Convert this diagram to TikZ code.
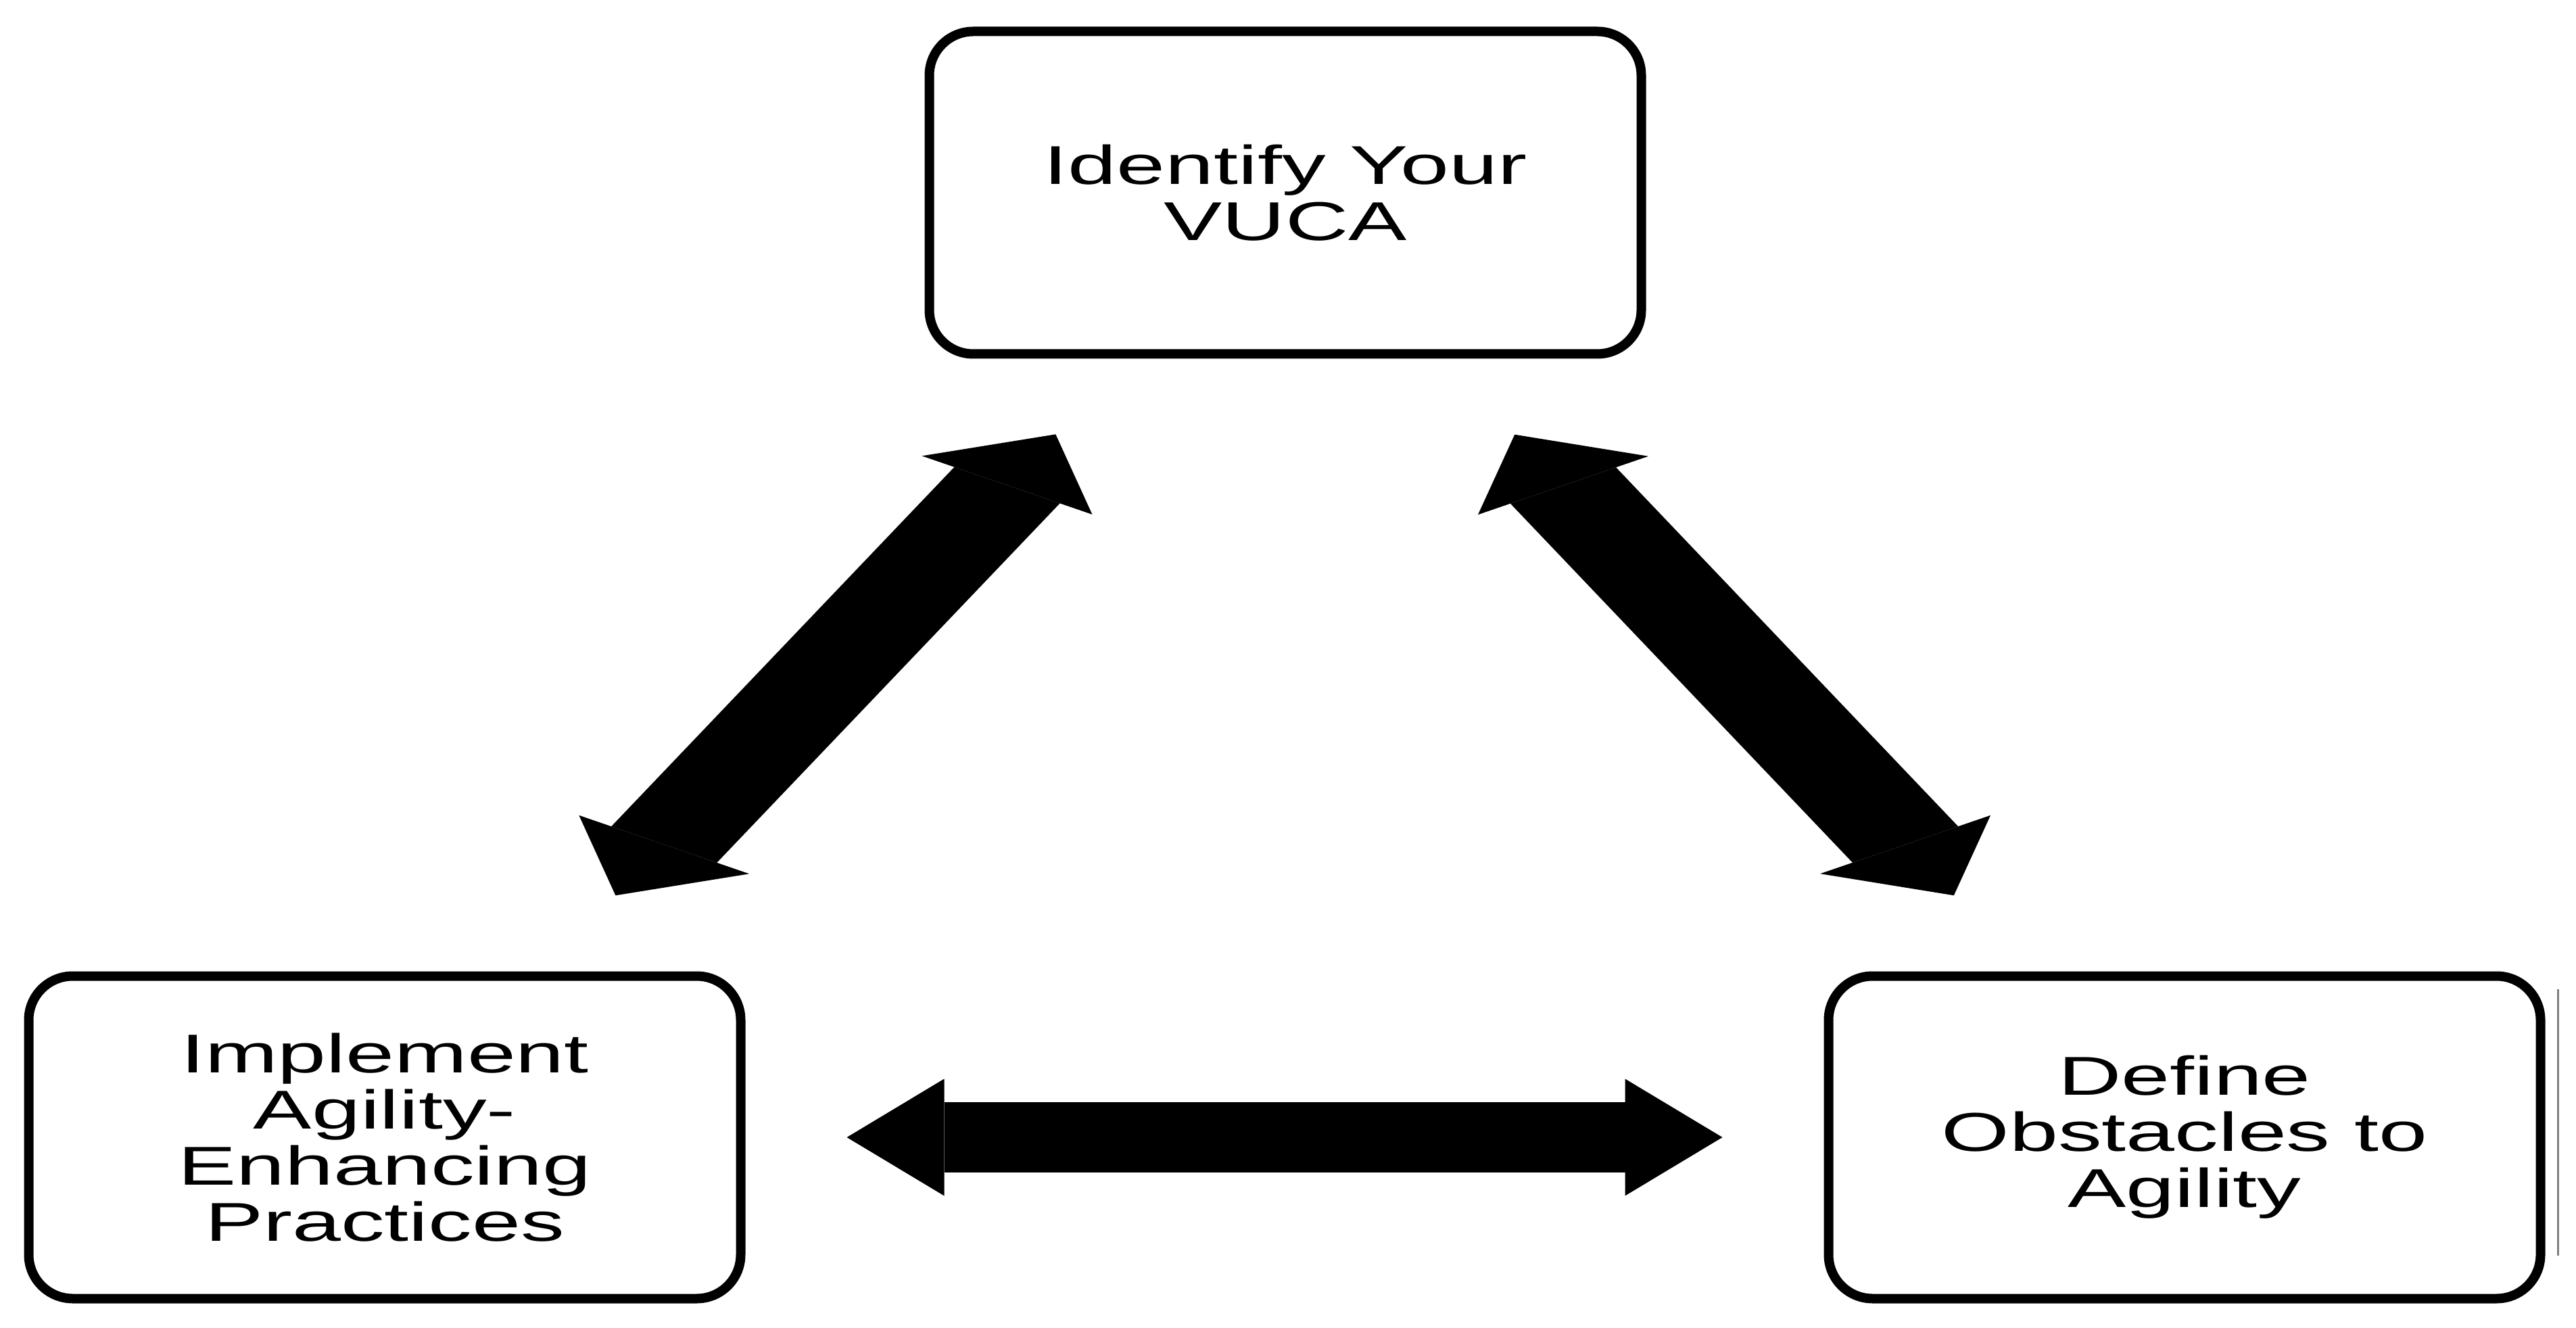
\documentclass[tikz,border=0pt]{standalone}
\usepackage{fontspec}
\newfontfamily\stagefont[FakeStretch=1.6]{Liberation Sans}
\usetikzlibrary{arrows.meta}

\tikzset{
  stage/.style={draw, line width=0.14cm, rounded corners=0.65cm,
    minimum width=10.53cm, minimum height=4.77cm, align=center,
    font=\stagefont\fontsize{23}{23.6}\selectfont},
  diaglink/.style={line width=1.5cm, shorten <=1.55cm, shorten >=1.55cm,
    {Triangle[length=1.04cm,width=2.42cm,line width=0pt]}-{Triangle[length=1.04cm,width=2.42cm,line width=0pt]}},
  flatlink/.style={line width=1.04cm, shorten <=1.5cm, shorten >=1.5cm,
    {Triangle[length=1.44cm,width=1.73cm,line width=0pt]}-{Triangle[length=1.44cm,width=1.73cm,line width=0pt]}},
  % shear along the arrow's own axis (points on the axis stay put)
  skew/.style={transform canvas={cm={#1}}}
}

\begin{document}
\begin{tikzpicture}
\useasboundingbox (0,0) rectangle (38.1,-19.64);

\node[stage] (vuca) at (19.01,-2.85) {Identify Your\\VUCA};
\node[stage] (implement) at (5.69,-16.82) {Implement\\Agility-\\Enhancing\\Practices};
\node[stage] (obstacles) at (32.31,-16.82) {Define\\Obstacles to\\Agility};

\draw[diaglink, skew={1.2297,0.2409,-0.2191,0.7703,(-4.992,-5.234)}] (implement) -- (vuca);
\draw[diaglink, skew={1.2297,-0.2409,0.2191,0.7703,(-3.740,3.921)}] (obstacles) -- (vuca);
\draw[flatlink] (implement) -- (obstacles);

\draw[gray, line width=0.03cm] (37.83,-14.63) -- (37.83,-18.57);
\end{tikzpicture}
\end{document}
